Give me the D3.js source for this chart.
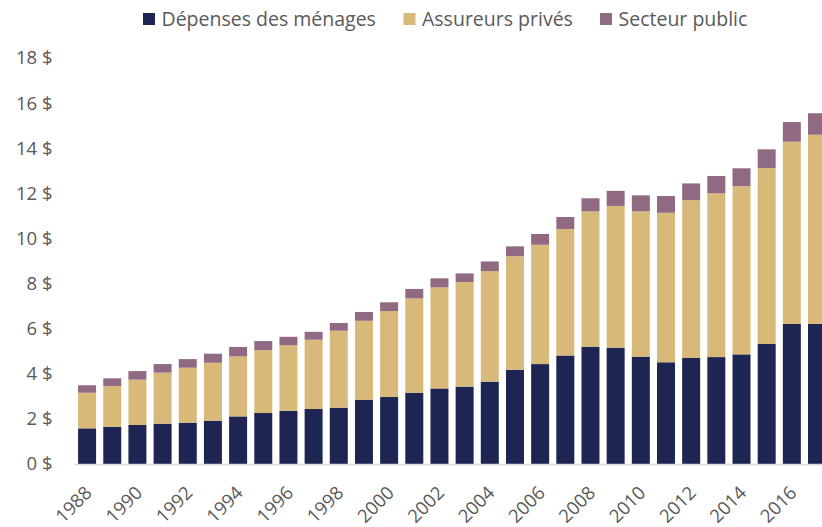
<!DOCTYPE html>
<html>
<head>
<meta charset="utf-8">
<script src="https://cdn.jsdelivr.net/npm/d3@7"></script>
<style>
  html, body { margin: 0; padding: 0; background: #fff; }
  svg { display: block; }
  text { font-family: "Open Sans", "Noto Sans", sans-serif; fill: #595959; }
</style>
</head>
<body>
<svg id="chart" width="822" height="527"></svg>
<script>
const years = d3.range(1988, 2018).map(String);
const menages = [1.58,1.65,1.73,1.79,1.83,1.92,2.11,2.26,2.36,2.44,2.50,2.85,2.97,3.16,3.35,3.43,3.65,4.18,4.43,4.81,5.20,5.16,4.76,4.51,4.70,4.74,4.86,5.32,6.21,6.21];
const assureurs = [1.58,1.81,2.01,2.26,2.44,2.57,2.66,2.79,2.90,3.07,3.41,3.50,3.81,4.18,4.48,4.64,4.90,5.03,5.29,5.61,6.00,6.28,6.44,6.63,7.00,7.26,7.46,7.80,8.08,8.39];
const publicS = [0.33,0.34,0.38,0.38,0.38,0.40,0.42,0.40,0.38,0.35,0.34,0.39,0.39,0.42,0.40,0.38,0.43,0.44,0.48,0.53,0.58,0.67,0.71,0.74,0.74,0.77,0.79,0.83,0.87,0.95];
const seriesNames = ["Dépenses des ménages", "Assureurs privés", "Secteur public"];
const seriesColors = ["#1f2553", "#d9b979", "#8f6a82"];
const yTicks = [0, 2, 4, 6, 8, 10, 12, 14, 16, 18];
const xTickLabels = years.filter((y, i) => i % 2 === 0);

const rows = years.map((y, i) => ({ year: y, s0: menages[i], s1: assureurs[i], s2: publicS[i] }));
const stack = d3.stack().keys(["s0", "s1", "s2"])(rows);

const svg = d3.select("#chart");
const x = d3.scaleBand().domain(years).range([74.5, 829.6]).paddingInner(0.285).paddingOuter(0.1425);
const y = d3.scaleLinear().domain([0, 18]).range([464, 58]);

// bars
svg.append("g").selectAll("g").data(stack).join("g")
  .attr("fill", (d, i) => seriesColors[i])
  .selectAll("rect").data(d => d).join("rect")
  .attr("x", d => x(d.data.year))
  .attr("width", x.bandwidth())
  .attr("y", d => y(d[1]))
  .attr("height", d => y(d[0]) - y(d[1]));

// baseline
svg.append("line")
  .attr("x1", 74.5).attr("x2", 822)
  .attr("y1", y(0) + 0.5).attr("y2", y(0) + 0.5)
  .attr("stroke", "#d9d9d9").attr("stroke-width", 1.5);

// y axis labels
const yAxis = d3.axisLeft(y).tickValues(yTicks).tickFormat(d => d + " $").tickSize(0).tickPadding(0);
const yg = svg.append("g").attr("transform", "translate(52.5,0)").call(yAxis);
yg.select(".domain").remove();
yg.selectAll("text").attr("font-size", 18.5).attr("font-family", null).style("fill", "#595959");

// x axis labels
const xAxis = d3.axisBottom(x).tickValues(xTickLabels).tickSize(0).tickPadding(0);
const xg = svg.append("g").attr("transform", "translate(0,0)").call(xAxis);
xg.select(".domain").remove();
xg.selectAll(".tick").attr("transform", d => `translate(${x(d) + x.bandwidth() / 2 + 6},494)`);
xg.selectAll("text")
  .attr("y", 0).attr("dy", 0)
  .attr("text-anchor", "end")
  .attr("transform", "rotate(-45)")
  .attr("font-size", 18.5).attr("font-family", null).style("fill", "#595959");

// legend
const legendX = [143, 403.5, 600];
const lg = svg.append("g");
seriesNames.forEach((name, i) => {
  lg.append("rect").attr("x", legendX[i]).attr("y", 13).attr("width", 12).attr("height", 12).attr("fill", seriesColors[i]);
  lg.append("text").attr("x", legendX[i] + 18.5).attr("y", 26).attr("font-size", 19.5).text(name);
});
</script>
</body>
</html>
